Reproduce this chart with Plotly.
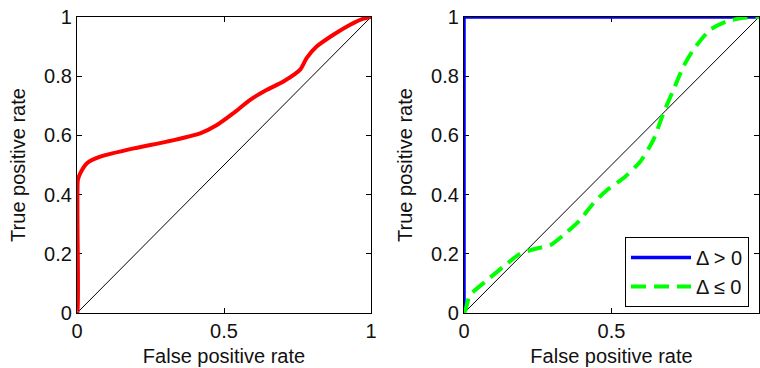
import plotly.graph_objects as go

# Left panel ROC curve
left_fpr = [0, 0.002, 0.003, 0.011, 0.034, 0.079, 0.193, 0.306, 0.419, 0.476, 0.532, 0.589,
            0.646, 0.702, 0.759, 0.781, 0.815, 0.872, 0.929, 0.97, 1.0]
left_tpr = [0, 0.0, 0.45, 0.472, 0.506, 0.528, 0.556, 0.579, 0.607, 0.635, 0.675, 0.72,
            0.754, 0.782, 0.822, 0.861, 0.9, 0.94, 0.974, 0.993, 1.0]

# Right panel ROC curves
pos_fpr = [0, 0, 1]
pos_tpr = [0, 1, 1]
neg_fpr = [0, 0.005, 0.02, 0.077, 0.133, 0.19, 0.246, 0.292, 0.337, 0.393, 0.438, 0.484,
           0.54, 0.597, 0.642, 0.676, 0.71, 0.744, 0.777, 0.834, 0.89, 0.947, 1.0]
neg_tpr = [0, 0.01, 0.06, 0.11, 0.156, 0.2, 0.218, 0.229, 0.263, 0.314, 0.37, 0.415,
           0.455, 0.511, 0.585, 0.675, 0.754, 0.833, 0.889, 0.957, 0.985, 0.997, 1.0]

diag = [0, 1]
x_ticks = [0, 0.5, 1]
x_labels = ["0", "0.5", "1"]
y_ticks = [0, 0.2, 0.4, 0.6, 0.8, 1]
y_labels = ["0", "0.2", "0.4", "0.6", "0.8", "1"]

fig = go.Figure()
fig.add_trace(go.Scatter(x=diag, y=diag, mode="lines", line=dict(color="black", width=1),
                         showlegend=False, xaxis="x", yaxis="y", hoverinfo="skip"))
fig.add_trace(go.Scatter(x=left_fpr, y=left_tpr, mode="lines", cliponaxis=False,
                         line=dict(color="#ff0000", width=4, shape="spline", smoothing=0.6),
                         showlegend=False, xaxis="x", yaxis="y"))
fig.add_trace(go.Scatter(x=diag, y=diag, mode="lines", line=dict(color="black", width=1),
                         showlegend=False, xaxis="x2", yaxis="y2", hoverinfo="skip"))
fig.add_trace(go.Scatter(x=pos_fpr, y=pos_tpr, mode="lines", name="Δ > 0", cliponaxis=False,
                         line=dict(color="#0000ff", width=3.5),
                         xaxis="x2", yaxis="y2"))
fig.add_trace(go.Scatter(x=neg_fpr, y=neg_tpr, mode="lines", name="Δ ≤ 0", cliponaxis=False,
                         line=dict(color="#00ff00", width=4, dash="15px,8px",
                                   shape="spline", smoothing=0.6),
                         xaxis="x2", yaxis="y2"))

font = dict(family="Liberation Sans, Arial, sans-serif", size=20, color="#111111")
axis_common = dict(range=[0, 1], showgrid=False, zeroline=False, showline=True,
                   linecolor="black", linewidth=1.3, mirror="ticks", ticks="inside",
                   ticklen=5, tickwidth=1, tickcolor="black", tickfont=font, fixedrange=True,
                   automargin=False, layer="below traces")

fig.update_layout(
    width=760, height=368,
    margin=dict(l=0, r=0, t=0, b=0),
    paper_bgcolor="white", plot_bgcolor="white",
    font=font,
    xaxis=dict(domain=[77/760, 371/760], anchor="y", tickvals=x_ticks, ticktext=x_labels,
               title=dict(text="False positive rate", font=font, standoff=7), **axis_common),
    yaxis=dict(domain=[1-313/368, 1-17/368], anchor="x", tickvals=y_ticks, ticktext=y_labels,
               title=dict(text="True positive rate", font=font, standoff=13), **axis_common),
    xaxis2=dict(domain=[464/760, 759/760], anchor="y2", tickvals=x_ticks, ticktext=x_labels,
                title=dict(text="False positive rate", font=font, standoff=7), **axis_common),
    yaxis2=dict(domain=[1-313/368, 1-17/368], anchor="x2", tickvals=y_ticks, ticktext=y_labels,
                title=dict(text="True positive rate", font=font, standoff=13), **axis_common),
    legend=dict(x=749/760, xanchor="right", y=1-237/368, yanchor="top",
                bgcolor="white", bordercolor="black", borderwidth=1,
                font=font, itemwidth=60, tracegroupgap=0),
)

fig.write_html("out.html", config={"displayModeBar": False},
               post_script="document.body.style.margin='0';document.body.style.overflow='hidden';")
